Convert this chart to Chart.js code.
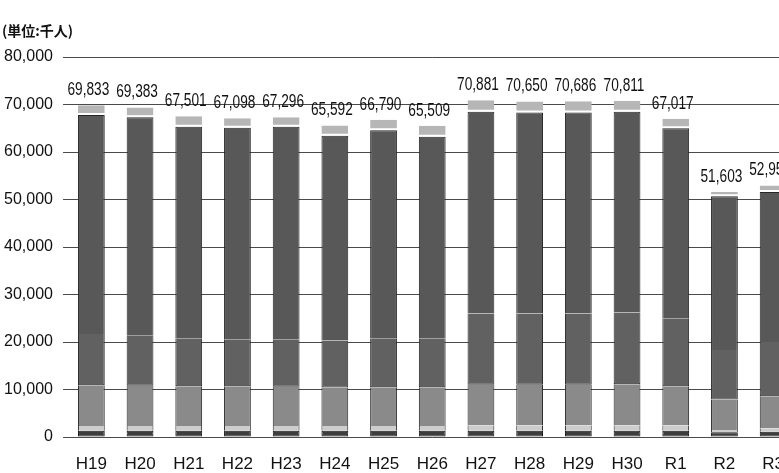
<!DOCTYPE html>
<html>
<head>
<meta charset="utf-8">
<script src="https://cdn.jsdelivr.net/npm/chart.js@4/dist/chart.umd.min.js"></script>
<style>
  html, body { margin: 0; padding: 0; background: #fff; overflow: hidden; }
  #wrap { position: relative; width: 801px; height: 473px; }
</style>
</head>
<body>
<div id="wrap"><canvas id="c" width="801" height="473"></canvas></div>
<script>
// Fiscal years
const categories = ['H19','H20','H21','H22','H23','H24','H25','H26','H27','H28','H29','H30','R1','R2','R3'];

// Stacked components (thousand people), bottom to top
const seriesA = [1300,1300,1300,1300,1300,1300,1300,1300,1300,1300,1300,1300,1300,1000,1100];
const seriesB = [1000,1000,1000,1000,1000,1000,1000,1000,1100,1100,1100,1100,1100,500,700];
const seriesC = [8600,8500,8400,8400,8300,8100,8200,8200,8600,8600,8600,8700,8300,6400,6800];
const seriesD = [10800,10500,10100,9900,10000,9900,10200,10300,15000,15000,15000,15100,14300,10400,11400];
const seriesE = [46100,46000,44500,44500,44700,43100,43900,42400,42500,42300,42300,42300,40000,32400,31600];
const seriesF = [2033,2083,2201,1998,1996,2192,2190,2309,2381,2350,2386,2311,2017,903,1350];

// Totals printed above each bar
const totals = [69833,69383,67501,67098,67296,65592,66790,65509,70881,70650,70686,70811,67017,51603,52950];

const yTicks = [0,10000,20000,30000,40000,50000,60000,70000,80000];
const unitLabel = '(単位:千人)';

const numFont = "'Liberation Sans', 'DejaVu Sans', sans-serif";

function fmt(v) { return v.toLocaleString('en-US'); }

const totalLabels = {
  id: 'totalLabels',
  afterDatasetsDraw(chart) {
    const ctx = chart.ctx;
    const last = chart.getDatasetMeta(chart.data.datasets.length - 1);
    const y = chart.scales.y;
    const sx = 0.76;
    ctx.save();
    ctx.font = "18px " + numFont;
    ctx.fillStyle = '#111';
    ctx.textAlign = 'center';
    ctx.textBaseline = 'bottom';
    ctx.scale(sx, 1);
    last.data.forEach((bar, i) => {
      ctx.fillText(fmt(totals[i]), (bar.x - 3) / sx, y.getPixelForValue(totals[i]) - 6);
    });
    ctx.restore();
  },
  afterDraw(chart) {
    const ctx = chart.ctx;
    ctx.save();
    ctx.font = "bold 14px 'Noto Sans CJK JP', sans-serif";
    ctx.fillStyle = '#111';
    ctx.textAlign = 'left';
    ctx.textBaseline = 'middle';
    ctx.fillText(unitLabel, 2, 31);
    ctx.restore();
  }
};

function ds(label, data, bg, extra) {
  return Object.assign({
    label, data, backgroundColor: bg,
    borderColor: '#262626', borderWidth: { left: 1, right: 1, top: 0, bottom: 0 }, borderSkipped: false,
    categoryPercentage: 1.0, barPercentage: 0.55
  }, extra || {});
}

new Chart(document.getElementById('c'), {
  type: 'bar',
  data: {
    labels: categories,
    datasets: [
      ds('A', seriesA, '#3e3e3e', { borderColor: '#161616', borderWidth: 1 }),
      ds('B', seriesB, '#cdcdcd'),
      ds('C', seriesC, '#8a8a8a'),
      ds('D', seriesD, '#616161', { borderWidth: { left: 1, right: 1, top: 0, bottom: 1 } }),
      ds('E', seriesE, '#585858', { borderWidth: { left: 1, right: 1, top: 1, bottom: 0 } }),
      ds('F', seriesF, '#b6b6b6', { borderColor: '#ffffff', borderWidth: { left: 0, right: 0, top: 0, bottom: 2 } })
    ]
  },
  options: {
    responsive: false,
    animation: false,
    layout: { padding: { top: 57, right: 0, bottom: 0, left: 0 } },
    plugins: { legend: { display: false }, tooltip: { enabled: false } },
    scales: {
      x: {
        stacked: true,
        grid: { display: false, drawTicks: false },
        border: { display: false },
        ticks: { color: '#111', font: { family: numFont, size: 17 }, padding: 17 },
        afterFit(s) { s.height = 36; }
      },
      y: {
        stacked: true,
        min: 0, max: 80000,
        afterBuildTicks(s) { s.ticks = yTicks.map(v => ({ value: v })); },
        grid: { color: '#4a4a4a', lineWidth: 1, tickLength: 4 },
        border: { display: false },
        ticks: { color: '#111', font: { family: numFont, size: 16 }, padding: 10, callback: v => fmt(v) },
        afterFit(s) { s.width = 67; }
      }
    }
  },
  plugins: [totalLabels]
});
</script>
</body>
</html>
